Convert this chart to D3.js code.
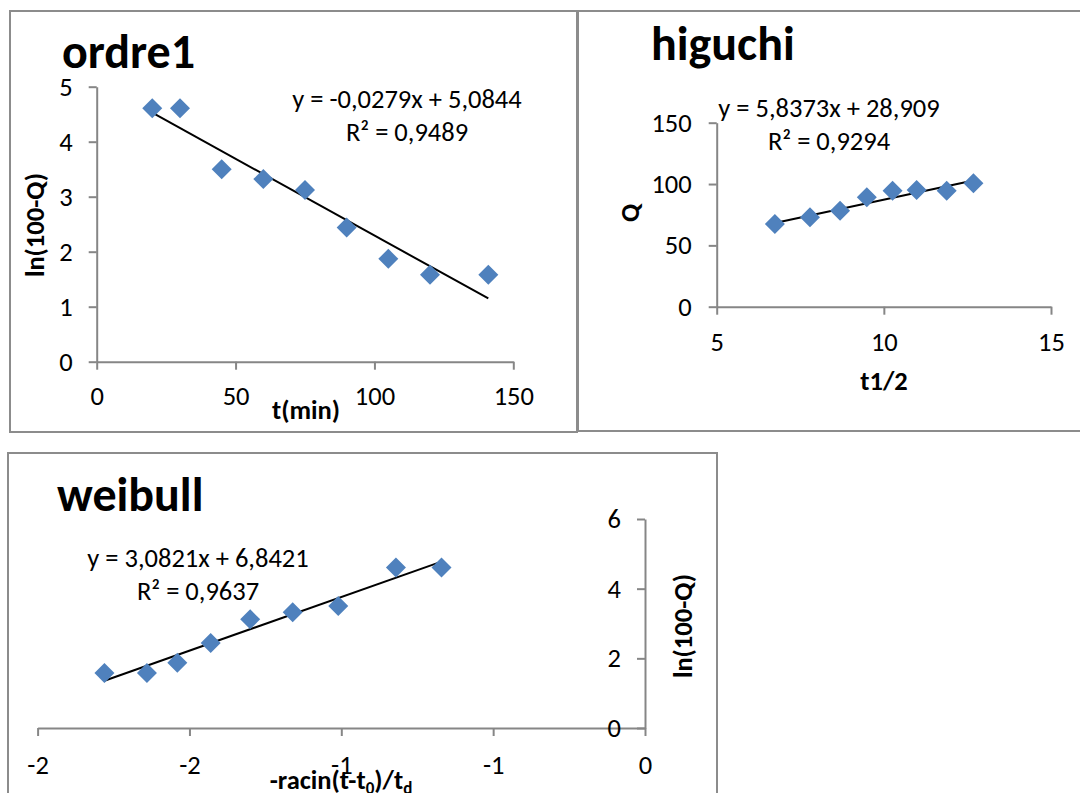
<!DOCTYPE html>
<html>
<head>
<meta charset="utf-8">
<script src="https://cdn.jsdelivr.net/npm/d3@7"></script>
<style>
  html, body { margin: 0; padding: 0; background: #fff; }
  svg { display: block; }
  text { font-family: Carlito, Calibri, Lato, "Open Sans", sans-serif; fill: #000; }
</style>
</head>
<body>
<svg id="chart" width="1080" height="793"></svg>
<script>
// ---- Order-1 kinetics: ln(100-Q) vs t(min)
const ordreT = [20, 30, 45, 60, 75, 90, 105, 120, 141];
const ordreLn = [4.61, 4.61, 3.50, 3.32, 3.12, 2.44, 1.87, 1.58, 1.58];
const ordreFit = { slope: -0.0279, intercept: 5.0844 };
const ordreEq = ["y = -0,0279x + 5,0844", "R² = 0,9489"];
const ordreXTicks = [0, 50, 100, 150];
const ordreYTicks = [0, 1, 2, 3, 4, 5];

// ---- Higuchi: Q vs t^(1/2)
const higSqrtT = [6.74, 7.79, 8.69, 9.49, 10.26, 10.98, 11.88, 12.68];
const higQ = [67.4, 72.9, 78.3, 89.2, 94.6, 95.1, 94.6, 100.6];
const higFit = { slope: 5.8373, intercept: 28.909 };
const higEq = ["y = 5,8373x + 28,909", "R² = 0,9294"];
const higXTicks = [5, 10, 15];
const higYTicks = [0, 50, 100, 150];

// ---- Weibull: ln(100-Q) vs -racin(t-t0)/td
const weiX = [-1.78, -1.64, -1.54, -1.43, -1.30, -1.16, -1.01, -0.82, -0.67];
const weiLn = [1.58, 1.58, 1.87, 2.44, 3.12, 3.32, 3.50, 4.61, 4.61];
const weiFit = { slope: 3.0821, intercept: 6.8421 };
const weiEq = ["y = 3,0821x + 6,8421", "R² = 0,9637"];
const weiXTicks = [-2, -1.5, -1, -0.5, 0];
const weiXTickLabels = ["-2", "-2", "-1", "-1", "0"];
const weiYTicks = [0, 2, 4, 6];

const svg = d3.select("#chart");
svg.append("rect").attr("width", 1080).attr("height", 793).attr("fill", "#fff");

const AXIS = "#868686";
const MARK = "#4F81BD";
const FONT = 26.5;

function styleAxis(g) {
  g.select(".domain").attr("stroke", AXIS).attr("stroke-width", 2);
  g.selectAll(".tick line").attr("stroke", AXIS).attr("stroke-width", 2);
  g.selectAll(".tick text")
    .attr("font-size", FONT)
    .attr("font-family", "Carlito, Calibri, Lato, sans-serif")
    .attr("fill", "#000");
}

function panel(cfg) {
  const g = svg.append("g");
  // chart frame
  g.append("rect")
    .attr("x", cfg.frame[0]).attr("y", cfg.frame[1])
    .attr("width", cfg.frame[2]).attr("height", cfg.frame[3])
    .attr("fill", "#fff").attr("stroke", "#8c8c8c").attr("stroke-width", 2);

  const x = d3.scaleLinear().domain(cfg.xDomain).range(cfg.xRange);
  const y = d3.scaleLinear().domain(cfg.yDomain).range(cfg.yRange);

  // x axis
  const xa = d3.axisBottom(x).tickValues(cfg.xTicks)
    .tickSizeInner(8).tickSizeOuter(0).tickPadding(cfg.xPad)
    .tickFormat((d, i) => cfg.xLabels ? cfg.xLabels[i] : String(d));
  g.append("g").attr("transform", `translate(0,${y(0)})`).call(xa).call(styleAxis);

  // y axis
  const ya = d3.axisLeft(y).tickValues(cfg.yTicks)
    .tickSizeInner(8).tickSizeOuter(0).tickPadding(cfg.yPad)
    .tickFormat(d => String(d));
  g.append("g").attr("transform", `translate(${cfg.yAxisAt},0)`).call(ya).call(styleAxis);

  // trend line over the data range
  const xs = d3.extent(cfg.xs);
  g.append("line")
    .attr("x1", x(xs[0])).attr("y1", y(cfg.fit.slope * xs[0] + cfg.fit.intercept))
    .attr("x2", x(xs[1])).attr("y2", y(cfg.fit.slope * xs[1] + cfg.fit.intercept))
    .attr("stroke", "#000").attr("stroke-width", 2);

  // diamond markers
  const sym = d3.symbol().type(d3.symbolSquare).size(200);
  g.selectAll("path.pt").data(cfg.xs.map((v, i) => [v, cfg.ys[i]]))
    .join("path").attr("class", "pt")
    .attr("d", sym)
    .attr("transform", d => `translate(${x(d[0])},${y(d[1])}) rotate(45)`)
    .attr("fill", MARK);

  // title
  g.append("text").attr("x", cfg.title[1]).attr("y", cfg.title[2])
    .attr("font-size", 48).attr("font-weight", "bold").text(cfg.title[0]);

  // regression equation
  cfg.eq.forEach((t, i) => {
    g.append("text").attr("x", cfg.eqPos[0]).attr("y", cfg.eqPos[1] + i * 33)
      .attr("text-anchor", "middle").attr("font-size", FONT).text(t);
  });

  // axis titles
  if (cfg.xTitle) {
    g.append("text").attr("x", cfg.xTitle[1]).attr("y", cfg.xTitle[2])
      .attr("text-anchor", "middle").attr("font-size", FONT).attr("font-weight", "bold")
      .text(cfg.xTitle[0]);
  }
  g.append("text")
    .attr("transform", `translate(${cfg.yTitle[1]},${cfg.yTitle[2]}) rotate(-90)`)
    .attr("text-anchor", "middle").attr("dy", "0.35em")
    .attr("font-size", FONT).attr("font-weight", "bold").text(cfg.yTitle[0]);
  return { g, x, y };
}

panel({
  frame: [10, 11, 567, 421],
  xDomain: [0, 150], xRange: [96.7, 513.3],
  yDomain: [0, 5], yRange: [361.7, 86.7],
  yAxisAt: 96.7,
  xTicks: ordreXTicks, yTicks: ordreYTicks,
  xPad: 16, yPad: 16,
  xs: ordreT, ys: ordreLn, fit: ordreFit,
  title: ["ordre1", 62, 68],
  eq: ordreEq, eqPos: [407, 108],
  xTitle: ["t(min)", 306, 419],
  yTitle: ["ln(100-Q)", 35, 225]
});

panel({
  frame: [578, 11, 520, 420],
  xDomain: [5, 15], xRange: [716.7, 1051],
  yDomain: [0, 150], yRange: [306.7, 122.7],
  yAxisAt: 716.7,
  xTicks: higXTicks, yTicks: higYTicks,
  xPad: 17, yPad: 17,
  xs: higSqrtT, ys: higQ, fit: higFit,
  title: ["higuchi", 651, 60],
  eq: higEq, eqPos: [829, 117],
  xTitle: ["t1/2", 884, 390],
  yTitle: ["Q", 630, 213]
});

const wei = panel({
  frame: [8, 453, 709, 360],
  xDomain: [-2, 0], xRange: [37.6, 645],
  yDomain: [0, 6], yRange: [728, 519],
  yAxisAt: 645,
  xTicks: weiXTicks, xLabels: weiXTickLabels, yTicks: weiYTicks,
  xPad: 19, yPad: 16,
  xs: weiX, ys: weiLn, fit: weiFit,
  title: ["weibull", 57, 511],
  eq: weiEq, eqPos: [198, 567],
  xTitle: null,
  yTitle: ["ln(100-Q)", 683, 626]
});

// x-axis title with subscripts
const wt = wei.g.append("text").attr("x", 341).attr("y", 789)
  .attr("text-anchor", "middle").attr("font-size", FONT).attr("font-weight", "bold");
wt.append("tspan").text("-racin(t-t");
wt.append("tspan").attr("font-size", 17).attr("dy", 5).text("0");
wt.append("tspan").attr("dy", -5).text(")/t");
wt.append("tspan").attr("font-size", 17).attr("dy", 5).text("d");
</script>
</body>
</html>
